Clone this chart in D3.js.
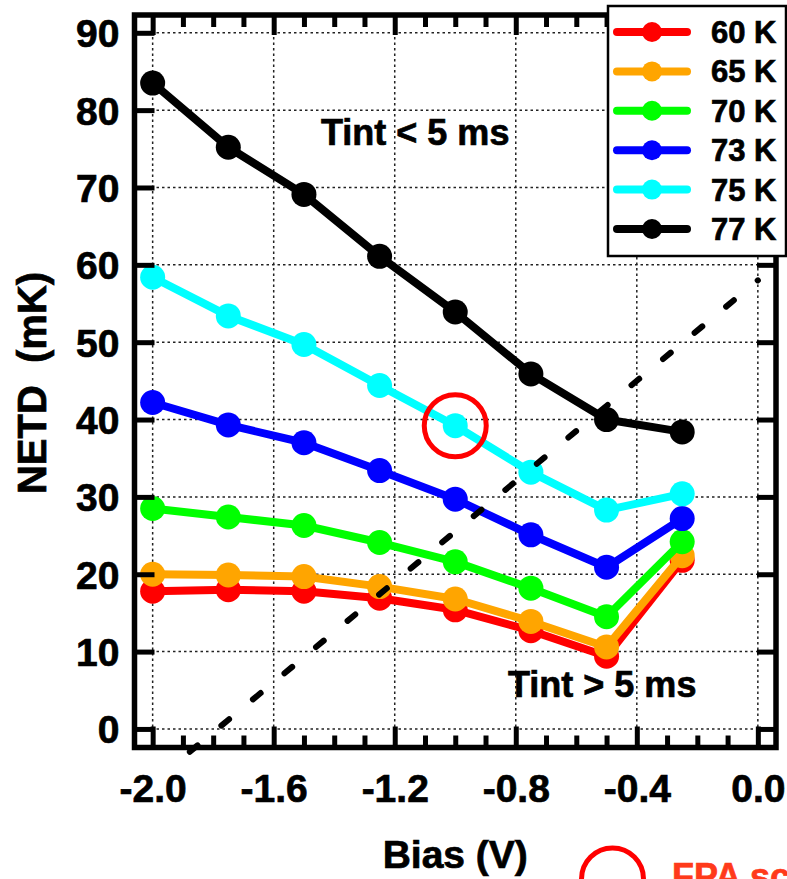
<!DOCTYPE html>
<html>
<head>
<meta charset="utf-8">
<script src="https://cdn.jsdelivr.net/npm/d3@7"></script>
<style>
  html, body { margin: 0; padding: 0; background: #fff; }
  svg { display: block; }
  text { font-family: "Liberation Sans", Arial, Helvetica, sans-serif; font-weight: bold; stroke-width: 0.7px; }
</style>
</head>
<body>
<svg id="chart" width="787" height="879"></svg>
<script>
// ---------- data ----------
const biasValues = [-2.0, -1.75, -1.5, -1.25, -1.0, -0.75, -0.5, -0.25];
const seriesNames = ["60 K", "65 K", "70 K", "73 K", "75 K", "77 K"];
const seriesColors = ["#ff0000", "#ffa500", "#00ff00", "#0000ff", "#00ffff", "#000000"];
const netd60 = [17.8, 18.0, 17.8, 16.9, 15.4, 12.7, 9.4, 21.8];
const netd65 = [20.0, 19.9, 19.7, 18.4, 16.8, 13.9, 10.6, 22.4];
const netd70 = [28.5, 27.4, 26.3, 24.1, 21.6, 18.2, 14.5, 24.2];
const netd73 = [42.2, 39.3, 37.0, 33.4, 29.7, 25.1, 20.9, 27.2];
const netd75 = [58.4, 53.4, 49.7, 44.4, 39.2, 33.2, 28.3, 30.4];
const netd77 = [83.5, 75.2, 69.1, 61.1, 53.9, 45.9, 40.0, 38.4];
const seriesValues = [netd60, netd65, netd70, netd73, netd75, netd77];

const xTickValues = [-2.0, -1.6, -1.2, -0.8, -0.4, 0.0];
const xTickLabels = ["-2.0", "-1.6", "-1.2", "-0.8", "-0.4", "0.0"];
const xMinorTicks = [-1.9, -1.8, -1.7, -1.5, -1.4, -1.3, -1.1, -1.0, -0.9, -0.7, -0.6, -0.5, -0.3, -0.2, -0.1];
const yTickValues = [0, 10, 20, 30, 40, 50, 60, 70, 80, 90];

// Tint boundary (dashed) line end points
const boundaryBias = [-1.9, 0.0];
const boundaryNetd = [-3.7, 58.0];
// highlighted point (FPA)
const highlightBias = [-1.0];
const highlightNetd = [39.2];

// ---------- layout ----------
const svg = d3.select("#chart");
const frame = { left: 134.5, right: 776, top: 15, bottom: 747.5 };
const x = d3.scaleLinear().domain([-2.06, 0.06]).range([frame.left, frame.right]);
const y = d3.scaleLinear().domain([-2.4, 92.3]).range([frame.bottom, frame.top]);

// grid
const grid = svg.append("g").attr("stroke", "#222").attr("stroke-width", 1.5).attr("stroke-dasharray", "2.5,3");
grid.selectAll("line.v").data(xTickValues).join("line").attr("class", "v")
  .attr("x1", d => x(d)).attr("x2", d => x(d)).attr("y1", frame.top).attr("y2", frame.bottom);
grid.selectAll("line.h").data(yTickValues).join("line").attr("class", "h")
  .attr("x1", frame.left).attr("x2", frame.right).attr("y1", d => y(d)).attr("y2", d => y(d));

// series
const line = d3.line().x(d => x(d[0])).y(d => y(d[1]));
seriesValues.forEach((vals, i) => {
  const pts = biasValues.map((b, j) => [b, vals[j]]);
  const g = svg.append("g");
  g.append("path").datum(pts).attr("d", line).attr("fill", "none")
    .attr("stroke", seriesColors[i]).attr("stroke-width", 8).attr("stroke-linejoin", "round");
  g.selectAll("circle").data(pts).join("circle")
    .attr("cx", d => x(d[0])).attr("cy", d => y(d[1])).attr("r", 12.5).attr("fill", seriesColors[i]);
});

// dashed boundary line
const bpts = boundaryBias.map((b, j) => [b, boundaryNetd[j]]);
svg.append("path").datum(bpts).attr("d", line).attr("fill", "none")
  .attr("stroke", "#000").attr("stroke-width", 6).attr("stroke-linecap", "round")
  .attr("stroke-dasharray", "10,31").attr("stroke-dashoffset", -9);

// highlight circle
svg.selectAll("circle.hl").data(highlightBias.map((b, j) => [b, highlightNetd[j]])).join("circle")
  .attr("class", "hl").attr("cx", d => x(d[0])).attr("cy", d => y(d[1]))
  .attr("r", 31).attr("fill", "none").attr("stroke", "#ff0000").attr("stroke-width", 5);

// annotations
svg.append("text").attr("x", 321).attr("y", 145).attr("font-size", 36).attr("stroke", "#000").text("Tint < 5 ms");
svg.append("text").attr("x", 508).attr("y", 697).attr("font-size", 36).attr("stroke", "#000").text("Tint > 5 ms");

// frame
svg.append("rect").attr("x", frame.left).attr("y", frame.top)
  .attr("width", frame.right - frame.left).attr("height", frame.bottom - frame.top)
  .attr("fill", "none").attr("stroke", "#000").attr("stroke-width", 5.5);

function styleAxis(g) {
  g.select(".domain").remove();
  g.selectAll(".tick line").attr("stroke", "#000").attr("stroke-width", 5);
  g.selectAll(".tick text").attr("fill", "#000").attr("stroke", "#000")
    .attr("font-family", "'Liberation Sans', Arial, sans-serif").attr("font-weight", "bold");
}

// bottom axis
const bottomAxis = svg.append("g").attr("transform", `translate(0,${frame.bottom})`)
  .call(d3.axisBottom(x).tickValues(xTickValues).tickFormat((d, i) => xTickLabels[i])
    .tickSizeInner(-21).tickSizeOuter(0).tickPadding(27));
styleAxis(bottomAxis);
bottomAxis.selectAll(".tick text").attr("font-size", 39);
const bottomMinor = svg.append("g").attr("transform", `translate(0,${frame.bottom})`)
  .call(d3.axisBottom(x).tickValues(xMinorTicks).tickFormat("").tickSizeInner(-12).tickSizeOuter(0));
styleAxis(bottomMinor);

// top axis
const topAxis = svg.append("g").attr("transform", `translate(0,${frame.top})`)
  .call(d3.axisTop(x).tickValues(xTickValues).tickFormat("").tickSizeInner(-20).tickSizeOuter(0));
styleAxis(topAxis);
const topMinor = svg.append("g").attr("transform", `translate(0,${frame.top})`)
  .call(d3.axisTop(x).tickValues(xMinorTicks).tickFormat("").tickSizeInner(-12).tickSizeOuter(0));
styleAxis(topMinor);

// left axis
const leftAxis = svg.append("g").attr("transform", `translate(${frame.left},0)`)
  .call(d3.axisLeft(y).tickValues(yTickValues).tickFormat(d3.format("d"))
    .tickSizeInner(-20).tickSizeOuter(0).tickPadding(15));
styleAxis(leftAxis);
leftAxis.selectAll(".tick text").attr("font-size", 39).attr("dy", "0.36em");

// right axis
const rightAxis = svg.append("g").attr("transform", `translate(${frame.right},0)`)
  .call(d3.axisRight(y).tickValues(yTickValues).tickFormat("").tickSizeInner(-19).tickSizeOuter(0));
styleAxis(rightAxis);

// axis titles
svg.append("text").attr("x", x(-1.0)).attr("y", 868).attr("text-anchor", "middle")
  .attr("font-size", 39).attr("stroke", "#000").text("Bias (V)");
svg.append("text").attr("transform", `translate(46,${383}) rotate(-90)`).attr("text-anchor", "middle")
  .attr("font-size", 40).attr("stroke", "#000").style("white-space", "pre").text("NETD  (mK)");

// legend
const lg = svg.append("g");
lg.append("rect").attr("x", 608).attr("y", 6).attr("width", 178).attr("height", 250)
  .attr("fill", "#fff").attr("stroke", "#000").attr("stroke-width", 2.5);
seriesNames.forEach((name, i) => {
  const cy = 32 + i * 39.4;
  lg.append("line").attr("x1", 617).attr("x2", 687).attr("y1", cy).attr("y2", cy)
    .attr("stroke", seriesColors[i]).attr("stroke-width", 8).attr("stroke-linecap", "round");
  lg.append("circle").attr("cx", 652).attr("cy", cy).attr("r", 10).attr("fill", seriesColors[i]);
  lg.append("text").attr("x", 711).attr("y", cy + 11).attr("font-size", 31).attr("stroke", "#000").text(name);
});

// bottom key (clipped at the page edge, as in the reference)
svg.append("circle").attr("cx", 612.5).attr("cy", 879).attr("r", 31)
  .attr("fill", "none").attr("stroke", "#ff0000").attr("stroke-width", 5);
svg.append("text").attr("x", 672).attr("y", 889).attr("font-size", 36).attr("fill", "#ff3a1a")
  .attr("stroke", "#ff3a1a").text("FPA scale");
</script>
</body>
</html>
